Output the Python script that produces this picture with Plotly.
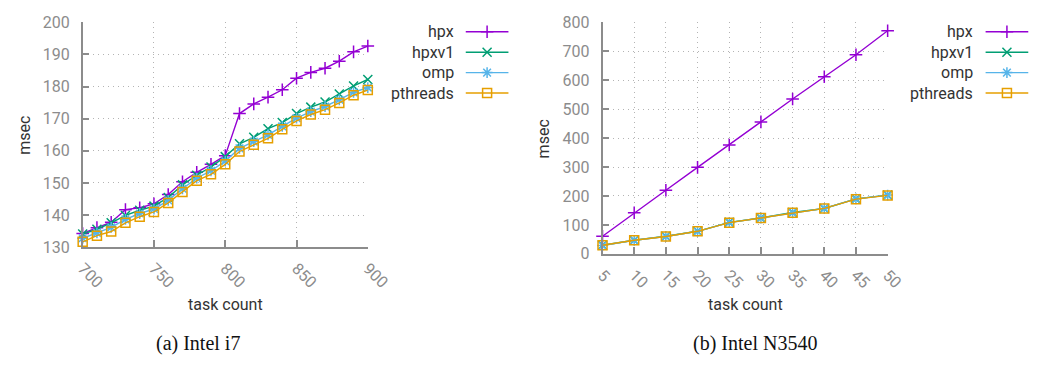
import plotly.graph_objects as go

# ---- data: Intel i7 ----
task_i7 = [700, 710, 720, 730, 740, 750, 760, 770, 780, 790, 800,
           810, 820, 830, 840, 850, 860, 870, 880, 890, 900]
hpx_i7 = [134.3, 136.1, 137.8, 141.7, 142.3, 143.5, 146.4, 150.4, 153.3, 155.8, 158.5,
          171.6, 174.6, 176.7, 179.0, 182.6, 184.4, 185.7, 187.9, 190.8, 192.6]
hpxv1_i7 = [134.1, 135.6, 137.6, 139.9, 141.5, 142.8, 145.5, 149.4, 152.4, 155.0, 158.2,
            162.2, 164.2, 166.9, 168.8, 171.6, 173.6, 175.2, 177.7, 180.2, 182.2]
omp_i7 = [132.8, 134.5, 136.2, 138.7, 140.5, 141.9, 144.6, 148.2, 151.5, 153.8, 156.8,
          160.8, 162.9, 165.0, 167.6, 170.2, 172.2, 173.8, 175.9, 178.2, 179.7]
pthreads_i7 = [131.7, 133.6, 134.9, 137.6, 139.5, 141.0, 143.8, 147.2, 150.7, 152.7, 155.8,
               159.8, 161.9, 163.9, 166.7, 169.3, 171.3, 172.8, 174.9, 177.3, 178.9]

# ---- data: Intel N3540 ----
task_n = [5, 10, 15, 20, 25, 30, 35, 40, 45, 50]
hpx_n = [61, 142, 220, 299, 376, 456, 535, 612, 688, 771]
hpxv1_n = [30, 47, 61, 78, 109, 124, 143, 157, 190, 203]
omp_n = [29, 47, 60, 78, 108, 124, 142, 157, 190, 203]
pthreads_n = [30, 47, 60, 78, 108, 124, 142, 157, 189, 202]

series_names = ["hpx", "hpxv1", "omp", "pthreads"]
colors = ["#9400d3", "#009e73", "#56b4e9", "#e69f00"]
symbols = ["cross-thin-open", "x-thin-open", "asterisk-open", "square-open"]
sizes = [9, 9, 9, 9]

W, H = 1061, 374
FONT = "Roboto"
TICK_COLOR = "#8c8c8c"
TEXT_COLOR = "#333333"
AXIS_COLOR = "#8c8c8c"
GRID_COLOR = "#b4b4b4"

fig = go.Figure()

panels = [
    ("x", "y", task_i7, [hpx_i7, hpxv1_i7, omp_i7, pthreads_i7]),
    ("x2", "y2", task_n, [hpx_n, hpxv1_n, omp_n, pthreads_n]),
]
for xa, ya, xs, ys_list in panels:
    for name, ys, col, sym, sz in zip(series_names, ys_list, colors, symbols, sizes):
        fig.add_trace(go.Scatter(
            x=xs, y=ys, name=name, mode="lines+markers",
            xaxis=xa, yaxis=ya, showlegend=False, cliponaxis=False,
            line=dict(color=col, width=1.4),
            marker=dict(symbol=sym, size=sz, color=col,
                        line=dict(color=col, width=1.5)),
        ))


def px_x(p):
    return p / W


def px_y(p):
    return 1 - p / H


axis_common = dict(
    showline=True, linecolor=AXIS_COLOR, linewidth=1.5,
    ticks="inside", ticklen=7, tickwidth=1.5, tickcolor=AXIS_COLOR,
    showgrid=True, gridcolor=GRID_COLOR, griddash="1px,4px", gridwidth=1,
    zeroline=False, mirror=False,
    tickfont=dict(family=FONT, size=16, color=TICK_COLOR),
)

fig.update_layout(
    width=W, height=H,
    margin=dict(l=0, r=0, t=0, b=0),
    paper_bgcolor="white", plot_bgcolor="rgba(0,0,0,0)",
    showlegend=False,
    xaxis=dict(domain=[px_x(77), px_x(371)], range=[700, 900],
               tickvals=[700, 750, 800, 850, 900], tickangle=45,
               ticklabelstandoff=4, anchor="y", **axis_common),
    yaxis=dict(domain=[px_y(251), px_y(14)], range=[130, 200], dtick=10,
               ticklabelstandoff=8, anchor="x", **axis_common),
    xaxis2=dict(domain=[px_x(613), px_x(907)], range=[5, 50],
                tickvals=task_n, tickangle=45,
                ticklabelstandoff=4, anchor="y2", **axis_common),
    yaxis2=dict(domain=[px_y(258), px_y(14)], range=[0, 800], dtick=100,
                ticklabelstandoff=8, anchor="x2", **axis_common),
    # overlay axis in pixel units used for the legend keys
    xaxis3=dict(domain=[0, 1], range=[0, W], visible=False, fixedrange=True,
                anchor="y3"),
    yaxis3=dict(domain=[0, 1], range=[H, 0], visible=False, fixedrange=True,
                anchor="x3"),
)


def label(x, y, text, size=16, color=TEXT_COLOR, family=FONT, xanchor="center",
          angle=0):
    return dict(x=px_x(x), y=px_y(y), xref="paper", yref="paper",
                xanchor=xanchor, yanchor="middle", text=text, textangle=angle,
                showarrow=False, font=dict(family=family, size=size, color=color))


annotations = []
# axis titles
for x, y in [(17, 133), (552, 137)]:
    annotations.append(label(x, y, "msec", angle=-90))
for x in [224, 760]:
    annotations.append(label(x, 311, "task count"))

# legends: label right-aligned, key sample to the right
legend_rows = [24, 45.5, 67, 88.5]
legend_boxes = [(462, 472, 516), (997, 1008, 1052)]
for text_right, line_l, line_r in legend_boxes:
    for name, col, sym, sz, ry in zip(series_names, colors, symbols, sizes, legend_rows):
        annotations.append(label(text_right, ry, name, xanchor="right"))
        fig.add_trace(go.Scatter(
            x=[line_l, line_r], y=[ry, ry], mode="lines", xaxis="x3", yaxis="y3",
            line=dict(color=col, width=1.4), showlegend=False, hoverinfo="skip"))
        fig.add_trace(go.Scatter(
            x=[(line_l + line_r) / 2], y=[ry], mode="markers", xaxis="x3", yaxis="y3",
            marker=dict(symbol=sym, size=sz, color=col, line=dict(color=col, width=1.5)),
            showlegend=False, hoverinfo="skip", cliponaxis=False))

# sub-figure captions
for x, txt in [(196, "(a) Intel i7"), (770, "(b) Intel N3540")]:
    annotations.append(label(x, 352, txt, size=20, color="#111111",
                             family="Liberation Serif"))

fig.update_layout(annotations=annotations)
fig.write_html("out.html")
